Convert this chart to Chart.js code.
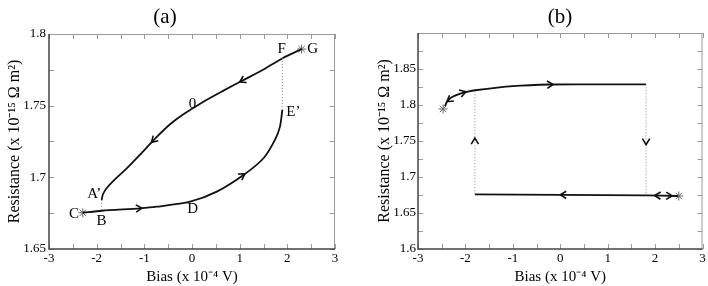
<!DOCTYPE html>
<html>
<head>
<meta charset="utf-8">
<script src="https://cdn.jsdelivr.net/npm/chart.js@4.4.1/dist/chart.umd.min.js"></script>
<style>
  html, body { margin: 0; padding: 0; background: #fff; }
  #wrap { position: relative; width: 708px; height: 286px; }
  canvas { position: absolute; top: 0; }
  #cA { left: 0; }
  #cB { left: 354px; }
</style>
</head>
<body>
<div id="wrap">
  <canvas id="cA" width="354" height="286"></canvas>
  <canvas id="cB" width="354" height="286"></canvas>
</div>
<script>
// ---- panel (a) ----
var upperAX = [2.30, 1.90, 1.50, 1.04, 0.66, 0.24, -0.18, -0.46, -0.78, -1.09, -1.37, -1.65, -1.80, -1.87, -1.895]
var upperAY = [1.7895, 1.7831, 1.7752, 1.7672, 1.7605, 1.7528, 1.7440, 1.7370, 1.7268, 1.7158, 1.7062, 1.6975, 1.6920, 1.6880, 1.6842]
var lowerAX = [-2.29, -1.895, -1.09, -0.74, -0.04, 0.52, 1.08, 1.50, 1.74, 1.846, 1.895]
var lowerAY = [1.6753, 1.6767, 1.6784, 1.6795, 1.6830, 1.6900, 1.7016, 1.7133, 1.7261, 1.7354, 1.7470]
var dotA1X = [-1.895, -1.895], dotA1Y = [1.6842, 1.6767]
var dotA2X = [1.895, 1.895], dotA2Y = [1.7470, 1.7831]
var starAX = [-2.29, 2.30], starAY = [1.6753, 1.7895]
var tickXA = [-3, -2, -1, 0, 1, 2, 3]
var tickYA = [1.65, 1.7, 1.75, 1.8]
// letters on the curves
var labelA = ['F', 'G', '0', 'E’', 'A’', 'B', 'C', 'D']
var labelAX = [1.88, 2.53, 0.01, 2.125, -2.05, -1.90, -2.475, 0.014]
var labelAY = [1.7892, 1.7897, 1.7514, 1.7456, 1.6884, 1.6697, 1.6744, 1.6777]
// arrows: tip x, tip y, back x, back y
var arrowsA = [[1.0, 1.7665, 1.5, 1.7752], [-0.85, 1.7244, -0.46, 1.7370],
               [-1.05, 1.6785, -1.5, 1.6776], [1.11, 1.7024, 0.52, 1.6900]]

// ---- panel (b) ----
var upperBX = [-2.43, -2.39, -2.30, -2.12, -1.95, -1.80, -1.00, -0.20, 0.70, 1.81]
var upperBY = [1.7985, 1.8045, 1.8105, 1.8155, 1.8185, 1.8205, 1.8262, 1.8285, 1.8287, 1.8287]
var lowerBX = [-1.80, 0.03, 1.81, 2.48]
var lowerBY = [1.6760, 1.6752, 1.6745, 1.6736]
var dotB1X = [-1.80, -1.80], dotB1Y = [1.6760, 1.8205]
var dotB2X = [1.81, 1.81], dotB2Y = [1.8287, 1.6745]
var starBX = [-2.47, 2.50], starBY = [1.7945, 1.6736]
var tickXB = [-3, -2, -1, 0, 1, 2, 3]
var tickYB = [1.6, 1.65, 1.7, 1.75, 1.8, 1.85]
var arrowsB = [[-2.39, 1.8046, -2.2, 1.8140], [-1.99, 1.8185, -2.2, 1.8140],
               [-0.15, 1.8285, -1.0, 1.8262], [0.0, 1.6752, 1.0, 1.6748],
               [1.99, 1.6744, 2.2, 1.6740], [2.36, 1.6738, 2.1, 1.6741],
               [-1.80, 1.7540, -1.80, 1.7300], [1.81, 1.7450, 1.81, 1.7700]]

Chart.defaults.font.family = "'Liberation Serif', 'Times New Roman', serif"
Chart.defaults.color = '#000'

function pts(xs, ys) {
  return xs.map(function (x, i) { return { x: x, y: ys[i] } })
}

function steps(a, b, d) { // positions of the small ticks
  var r = []
  for (var i = 0; a + i * d <= b + 1e-9; i++) r.push(+(a + i * d).toFixed(4))
  return r
}

var deco = { // frame, inward ticks, arrows, letters and panel title
  id: 'deco',
  beforeDatasetsDraw: function (chart, args, o) {
    var ctx = chart.ctx, a = chart.chartArea, sx = chart.scales.x, sy = chart.scales.y
    ctx.save()
    ctx.strokeStyle = '#9a9a9a'
    ctx.lineWidth = 1
    ctx.beginPath()
    o.minorX.forEach(function (v) {
      var p = Math.round(sx.getPixelForValue(v)) + 0.5
      ctx.moveTo(p, a.bottom); ctx.lineTo(p, a.bottom - 5)
      ctx.moveTo(p, a.top); ctx.lineTo(p, a.top + 5)
    })
    o.minorY.forEach(function (v) {
      var p = Math.round(sy.getPixelForValue(v)) + 0.5
      ctx.moveTo(a.left, p); ctx.lineTo(a.left + 5, p)
      ctx.moveTo(a.right, p); ctx.lineTo(a.right - 5, p)
    })
    ctx.moveTo(a.left, a.top + 0.5); ctx.lineTo(a.right, a.top + 0.5)
    ctx.moveTo(a.right - 0.5, a.top); ctx.lineTo(a.right - 0.5, a.bottom)
    ctx.stroke()
    ctx.strokeStyle = '#444'
    ctx.lineWidth = 1.5
    ctx.beginPath()
    ctx.moveTo(a.left, a.top); ctx.lineTo(a.left, a.bottom); ctx.lineTo(a.right, a.bottom)
    ctx.stroke()
    ctx.restore()
  },
  afterDatasetsDraw: function (chart, args, o) {
    var ctx = chart.ctx, sx = chart.scales.x, sy = chart.scales.y
    ctx.save()
    ctx.strokeStyle = '#111'
    ctx.lineWidth = 1.6
    ctx.lineJoin = 'miter'
    o.arrows.forEach(function (r) {
      var tx = sx.getPixelForValue(r[0]), ty = sy.getPixelForValue(r[1])
      var bx = sx.getPixelForValue(r[2]), by = sy.getPixelForValue(r[3])
      var ang = Math.atan2(ty - by, tx - bx), L = 7, w = 0.55
      ctx.beginPath()
      ctx.moveTo(tx - L * Math.cos(ang - w), ty - L * Math.sin(ang - w))
      ctx.lineTo(tx, ty)
      ctx.lineTo(tx - L * Math.cos(ang + w), ty - L * Math.sin(ang + w))
      ctx.stroke()
    })
    ctx.fillStyle = '#000'
    ctx.textAlign = 'center'
    ctx.textBaseline = 'middle'
    ctx.font = "15px 'Liberation Serif', serif"
    o.labels.forEach(function (t, i) {
      ctx.fillText(t, sx.getPixelForValue(o.labelX[i]), sy.getPixelForValue(o.labelY[i]))
    })
    ctx.font = "21px 'Liberation Serif', serif"
    ctx.fillText(o.title, o.titleX, 17)
    ctx.restore()
  }
}

function makeChart(id, p) {
  var lineDs = function (xs, ys) {
    return { data: pts(xs, ys), showLine: true, borderColor: '#111', borderWidth: 1.8,
             pointRadius: 0, tension: 0.25, fill: false }
  }
  var dotDs = function (xs, ys) {
    return { data: pts(xs, ys), showLine: true, borderColor: '#8a8a8a', borderWidth: 1,
             borderDash: [1, 2], pointRadius: 0, fill: false }
  }
  return new Chart(document.getElementById(id), {
    type: 'scatter',
    data: {
      datasets: [
        dotDs(p.dot1X, p.dot1Y),
        dotDs(p.dot2X, p.dot2Y),
        lineDs(p.upX, p.upY),
        lineDs(p.loX, p.loY),
        { data: pts(p.starX, p.starY), pointStyle: 'star', pointRadius: 4.5,
          borderColor: '#666', borderWidth: 1, backgroundColor: '#666' }
      ]
    },
    options: {
      responsive: false,
      animation: false,
      devicePixelRatio: 1,
      layout: { padding: p.pad },
      plugins: {
        legend: { display: false },
        tooltip: { enabled: false },
        deco: {
          minorX: steps(-3, 3, 0.5), minorY: steps(p.yMin, p.yMax, 0.025),
          arrows: p.arrows, labels: p.labels || [], labelX: p.labelX || [], labelY: p.labelY || [],
          title: p.title, titleX: p.titleX
        }
      },
      scales: {
        x: {
          type: 'linear', min: -3, max: 3,
          afterBuildTicks: function (s) { s.ticks = p.tickX.map(function (v) { return { value: v } }) },
          afterFit: function (s) { s.height = 37 },
          grid: { display: false, drawTicks: false }, border: { display: false },
          ticks: { font: { size: 13 }, padding: 2, maxRotation: 0, autoSkip: false,
                   callback: function (v) { return String(v) } },
          title: { display: true, text: 'Bias (x 10⁻⁴ V)', font: { size: 15 }, padding: { top: 0, bottom: 0 } }
        },
        y: {
          type: 'linear', min: p.yMin, max: p.yMax,
          afterBuildTicks: function (s) { s.ticks = p.tickY.map(function (v) { return { value: v } }) },
          afterFit: function (s) { s.width = p.yWidth },
          grid: { display: false, drawTicks: false }, border: { display: false },
          ticks: { font: { size: 13 }, padding: p.yPad, autoSkip: false,
                   callback: function (v) { return String(+v.toFixed(2)) } },
          title: { display: true, text: 'Resistance (x 10⁻¹⁵ Ω m²)', font: { size: 16 },
                   padding: { top: p.yTitlePad, bottom: 0 } }
        }
      }
    },
    plugins: [deco]
  })
}

makeChart('cA', {
  upX: upperAX, upY: upperAY, loX: lowerAX, loY: lowerAY,
  dot1X: dotA1X, dot1Y: dotA1Y, dot2X: dotA2X, dot2Y: dotA2Y,
  starX: starAX, starY: starAY, tickX: tickXA, tickY: tickYA,
  yMin: 1.65, yMax: 1.8, arrows: arrowsA,
  labels: labelA, labelX: labelAX, labelY: labelAY,
  title: '(a)', titleX: 165,
  pad: { left: 0, right: 19, top: 34, bottom: 0 }, yWidth: 49, yPad: 3, yTitlePad: 5
})

makeChart('cB', {
  upX: upperBX, upY: upperBY, loX: lowerBX, loY: lowerBY,
  dot1X: dotB1X, dot1Y: dotB1Y, dot2X: dotB2X, dot2Y: dotB2Y,
  starX: starBX, starY: starBY, tickX: tickXB, tickY: tickYB,
  yMin: 1.6, yMax: 1.9, arrows: arrowsB,
  title: '(b)', titleX: 206,
  pad: { left: 0, right: 5, top: 33, bottom: 0 }, yWidth: 64, yPad: 2, yTitlePad: 21
})
</script>
</body>
</html>
